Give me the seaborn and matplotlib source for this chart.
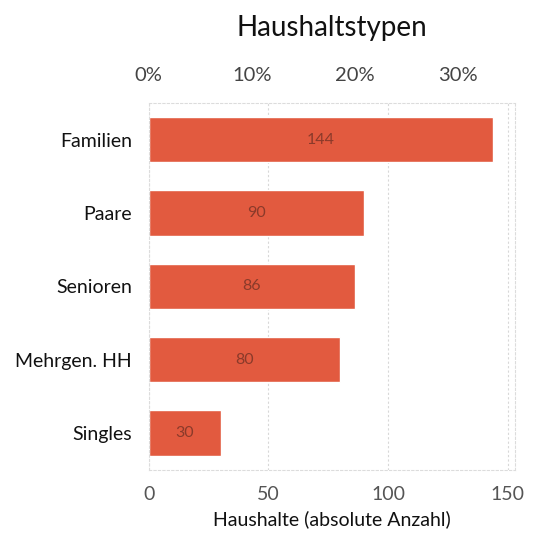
import matplotlib
matplotlib.use("Agg")
import pandas as pd
import matplotlib.pyplot as plt
import seaborn as sns

kategorien = ["Familien", "Paare", "Senioren", "Mehrgen. HH", "Singles"]
haushalte = [144, 90, 86, 80, 30]
prozent_ticks = [0, 10, 20, 30]

df = pd.DataFrame({"typ": kategorien, "anzahl": haushalte})
gesamt = sum(haushalte)

sns.set_style("white")
plt.rcParams["font.family"] = ["Lato", "DejaVu Sans"]

fig = plt.figure(figsize=(5.45, 5.45), dpi=100)
ax = fig.add_axes([0.273, 0.138, 0.672, 0.673])

sns.barplot(data=df, x="anzahl", y="typ", color="#E25A3F", saturation=1,
            width=0.62, ax=ax)

for i, v in enumerate(haushalte):
    ax.text(v / 2, i, str(v), ha="center", va="center", fontsize=11.5,
            color="#8a3a2a")

ax.set_xlim(0, 153)
ax.set_xticks([0, 50, 100, 150])
ax.grid(axis="x", color="#d8d8d8", linestyle=(0, (2, 2)), linewidth=0.8)
ax.set_axisbelow(True)
for s in ax.spines.values():
    s.set_color("#dcdcdc")
    s.set_linestyle((0, (2, 2)))
    s.set_linewidth(0.8)

ax.tick_params(axis="x", length=0, pad=12, labelsize=14, labelcolor="#555555")
ax.tick_params(axis="y", length=0, pad=12, labelsize=14, labelcolor="#111111")
ax.set_ylabel("")
ax.set_xlabel("Haushalte (absolute Anzahl)", fontsize=14, color="#111111", labelpad=5)

# obere Achse: Anteil in Prozent
top = ax.secondary_xaxis("top", functions=(lambda x: x / gesamt * 100,
                                           lambda p: p * gesamt / 100))
top.set_xticks(prozent_ticks)
top.set_xticklabels([f"{p}%" for p in prozent_ticks])
top.tick_params(length=0, pad=14, labelsize=14.5, labelcolor="#444444")
top.spines["top"].set_visible(False)

fig.text(0.609, 0.948, "Haushaltstypen", fontsize=20, ha="center", va="center",
         color="#111111")

fig.savefig("out.png", dpi=100)
